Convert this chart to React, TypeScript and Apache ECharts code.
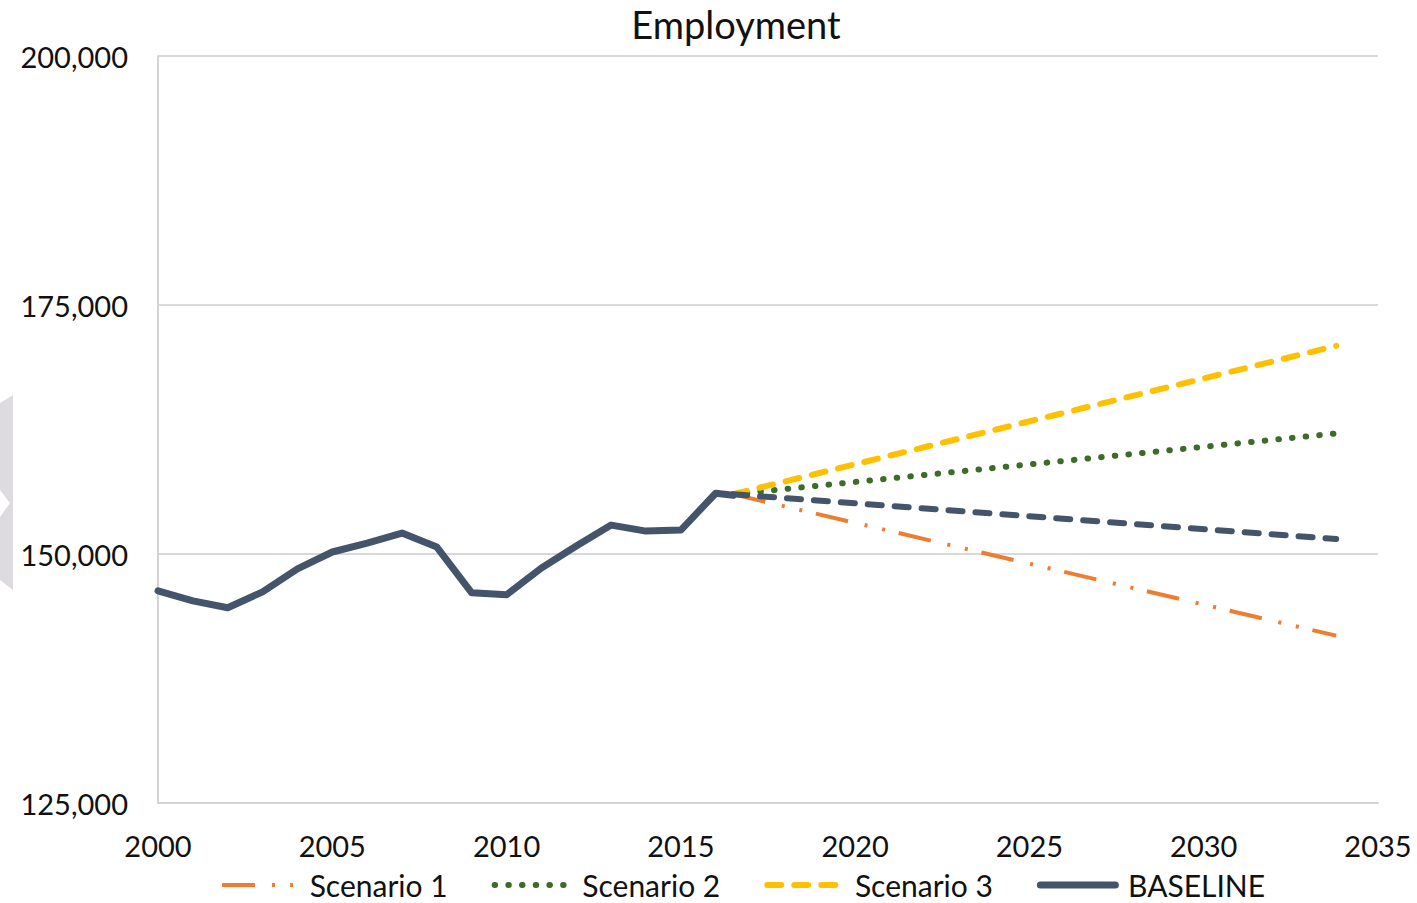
import React, { useEffect, useRef } from "react";
import * as echarts from "echarts";

const histYears = [2000, 2001, 2002, 2003, 2004, 2005, 2006, 2007, 2008, 2009, 2010, 2011, 2012, 2013, 2014, 2015, 2016, 2016.5];
const baselineHist = [146300, 145300, 144600, 146200, 148500, 150200, 151100, 152100, 150700, 146100, 145900, 148600, 150800, 152900, 152300, 152400, 156100, 155900];

const projYears = [2016.5, 2033.8];
const scenario1 = [156000, 141800];
const scenario2 = [156000, 162100];
const scenario3 = [156000, 170900];
const baselineProj = [156000, 151500];

const legendNames = ["Scenario 1", "Scenario 2", "Scenario 3", "BASELINE"];
const xTicks = { min: 2000, max: 2035, interval: 5 };
const yTicks = { min: 125000, max: 200000, interval: 25000 };

const zip = (xs: number[], ys: number[]) => xs.map((x, i) => [x, ys[i]]);

const FONT = "Lato";
const TEXT = "#111111";

export default function App() {
  const ref = useRef<HTMLDivElement>(null);
  useEffect(() => {
    if (!ref.current) return;
    const chart = echarts.init(ref.current, null, { renderer: "svg" });
    chart.setOption({
      animation: false,
      backgroundColor: "#ffffff",
      textStyle: { fontFamily: FONT },
      title: {
        text: "Employment",
        left: 731,
        textAlign: "center",
        top: 0,
        textStyle: { fontFamily: FONT, fontSize: 38, fontWeight: "normal", color: TEXT },
      },
      grid: { left: 158, right: 39, top: 56, bottom: 100, containLabel: false },
      legend: {
        top: 864,
        left: 215,
        data: legendNames,
        itemWidth: 75,
        itemHeight: 14,
        itemGap: 44,
        itemStyle: { opacity: 0 },
        lineStyle: { width: "inherit" },
        formatter: (name: string) => " " + name,
        textStyle: { fontFamily: FONT, fontSize: 30, lineHeight: 32, color: TEXT },
      },
      xAxis: {
        type: "value",
        min: xTicks.min,
        max: xTicks.max,
        interval: xTicks.interval,
        axisLine: { show: true, lineStyle: { color: "#d4d4d4", width: 2 } },
        axisTick: { show: false },
        splitLine: { show: false },
        axisLabel: {
          formatter: (v: number) => String(v),
          fontFamily: FONT,
          fontSize: 29,
          color: TEXT,
          margin: 28,
        },
      },
      yAxis: {
        type: "value",
        min: yTicks.min,
        max: yTicks.max,
        interval: yTicks.interval,
        axisLine: { show: true, lineStyle: { color: "#d4d4d4", width: 2 } },
        axisTick: { show: false },
        splitLine: { show: true, lineStyle: { color: "#d9d9d9", width: 2 } },
        axisLabel: {
          fontFamily: FONT,
          fontSize: 29,
          color: TEXT,
          margin: 30,
        },
      },
      graphic: [
        {
          type: "polygon",
          shape: {
            points: [[0, 403], [13, 395], [13, 590], [0, 580], [0, 517], [10, 503], [0, 490]],
          },
          style: { fill: "#dddae0" },
          silent: true,
        },
      ],
      series: [
        {
          name: "Scenario 1",
          type: "line",
          symbol: "none",
          data: zip(projYears, scenario1),
          lineStyle: { color: "#ED7D31", width: 4, type: [33, 17, 3, 15, 3, 14], cap: "butt" },
          itemStyle: { color: "#ED7D31" },
          z: 2,
        },
        {
          name: "Scenario 2",
          type: "line",
          symbol: "none",
          data: zip(projYears, scenario2),
          lineStyle: { color: "#3E6B2A", width: 6, type: [0.5, 13.2], cap: "round" },
          itemStyle: { color: "#3E6B2A" },
          z: 2,
        },
        {
          name: "Scenario 3",
          type: "line",
          symbol: "none",
          data: zip(projYears, scenario3),
          lineStyle: { color: "#FFC000", width: 6, type: [14, 13], cap: "round" },
          itemStyle: { color: "#FFC000" },
          z: 2,
        },
        {
          name: "BASELINE",
          type: "line",
          symbol: "none",
          data: zip(histYears, baselineHist),
          lineStyle: { color: "#44546A", width: 7, cap: "round", join: "round" },
          itemStyle: { color: "#44546A" },
          z: 3,
        },
        {
          name: "BASELINE projection",
          type: "line",
          symbol: "none",
          data: zip(projYears, baselineProj),
          lineStyle: { color: "#44546A", width: 6, type: [14, 13], cap: "round" },
          itemStyle: { color: "#44546A" },
          z: 3,
        },
      ],
    });
    return () => chart.dispose();
  }, []);
  return (
    <div
      ref={ref}
      style={{ position: "fixed", left: 0, top: 0, width: 1417, height: 903 }}
    />
  );
}
